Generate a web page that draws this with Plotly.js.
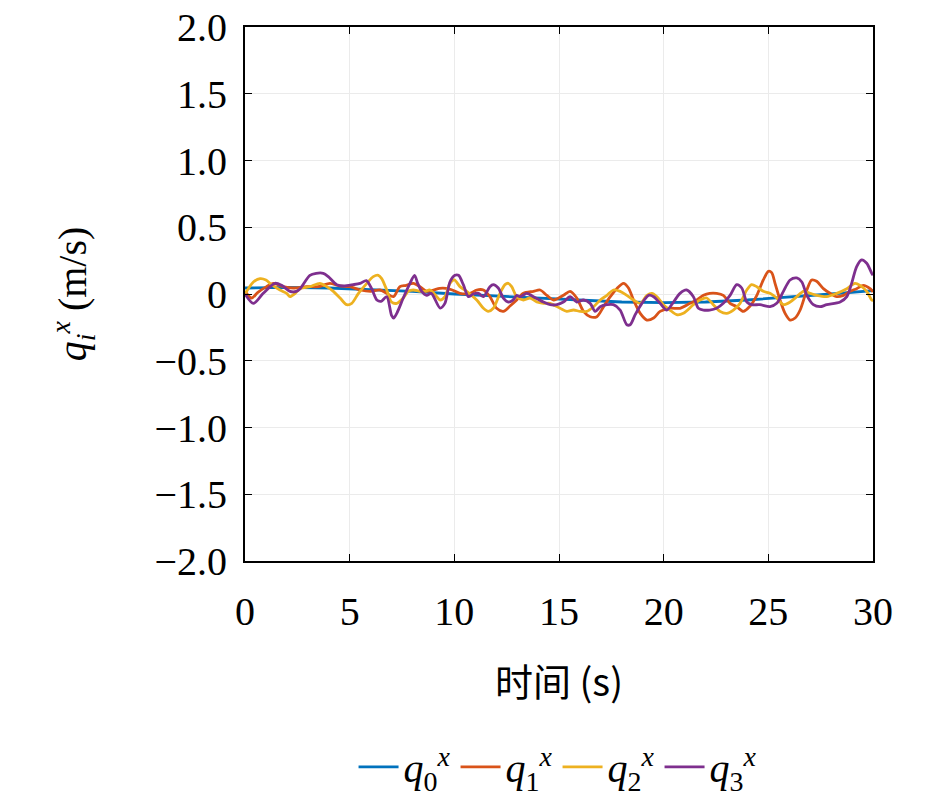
<!DOCTYPE html>
<html>
<head>
<meta charset="utf-8">
<script src="https://cdn.plot.ly/plotly-3.0.1.min.js"></script>
<style>
  body { margin: 0; background: #fff; }
  #plot { width: 945px; height: 798px; }
</style>
</head>
<body>
<div id="plot"></div>
<script>
// time (s) and velocity (m/s)
const t0 = [0, 2, 4, 6, 8, 10, 12, 14, 16, 18, 20, 22, 24, 26, 28, 30]
const q0 = [0.045, 0.05, 0.045, 0.035, 0.02, 0.0, -0.015, -0.035, -0.05, -0.06, -0.065, -0.06, -0.045, -0.025, 0.0, 0.025]

const t1 = [0, 0.32, 0.6, 1.03, 1.35, 1.83, 2.3, 2.95, 3.5, 4.06,
  4.5, 5.0, 5.5, 6.0, 6.45, 6.77, 7.09, 7.4, 7.7, 8.04,
  8.36, 8.68, 9.0, 9.3, 9.6, 9.9, 10.27, 10.75, 11.07, 11.39,
  11.7, 12.02, 12.34, 12.66, 12.98, 13.3, 13.78, 14.1, 14.42, 14.74,
  15.21, 15.53, 15.85, 16.17, 16.49, 16.81, 17.13, 17.45, 17.76, 18.08,
  18.32, 18.56, 18.88, 19.2, 19.52, 19.83, 20.3, 20.78, 21.26, 21.58,
  21.9, 22.2, 22.53, 22.85, 23.17, 23.49, 23.8, 24.13, 24.45, 24.76,
  25.0, 25.16, 25.32, 25.56, 25.8, 26.04, 26.28, 26.52, 26.84, 27.07,
  27.31, 27.63, 27.95, 28.27, 28.59, 28.9, 29.22, 29.54, 29.86, 30]
const q1 = [0.02, -0.03, 0.01, 0.055, 0.08, 0.055, 0.045, 0.055, 0.055, 0.08,
  0.06, 0.055, 0.03, 0.02, 0.03, 0.005, -0.02, 0.055, 0.065, 0.08,
  0.055, 0.02, 0.03, 0.042, 0.042, 0.03, 0.005, 0.005, 0.03, 0.03,
  -0.02, -0.107, -0.13, -0.09, -0.045, 0.005, 0.02, 0.03, -0.01, -0.045,
  -0.01, 0.02, -0.03, -0.13, -0.17, -0.17, -0.095, -0.02, 0.04, 0.08,
  0.045, -0.045, -0.145, -0.195, -0.18, -0.13, -0.107, -0.107, -0.07, -0.045,
  -0.01, 0.005, 0.005, -0.01, -0.07, -0.095, -0.13, -0.09, -0.01, 0.105,
  0.17, 0.16, 0.08, -0.045, -0.145, -0.195, -0.18, -0.12, 0.03, 0.105,
  0.095, 0.04, 0.005, -0.02, -0.01, 0.02, 0.04, 0.065, 0.04, 0.015]

const t2 = [0, 0.4, 0.72, 1.0, 1.27, 1.67, 1.99, 2.15, 2.4, 2.63,
  3.1, 3.58, 3.9, 4.22, 4.54, 4.86, 5.1, 5.42, 5.82, 6.13,
  6.37, 6.53, 6.77, 7.0, 7.25, 7.56, 7.8, 8.04, 8.36, 8.6,
  8.84, 9.16, 9.32, 9.55, 9.79, 10.0, 10.27, 10.59, 11.07, 11.39,
  11.62, 11.86, 12.18, 12.42, 12.58, 12.74, 12.98, 13.3, 13.62, 13.94,
  14.26, 14.58, 15.05, 15.37, 15.69, 16.01, 16.33, 16.65, 16.97, 17.29,
  17.6, 17.92, 18.24, 18.56, 18.88, 19.2, 19.44, 19.68, 19.99, 20.3,
  20.62, 20.94, 21.42, 21.74, 22.05, 22.37, 22.69, 23.01, 23.33, 23.65,
  23.97, 24.2, 24.45, 24.76, 25.08, 25.4, 25.72, 26.04, 26.36, 26.68,
  27.0, 27.31, 27.79, 28.27, 28.75, 29.14, 29.38, 29.7, 29.94, 30]
const q2 = [0.0, 0.09, 0.115, 0.105, 0.07, 0.03, 0.005, -0.02, 0.005, 0.04,
  0.055, 0.08, 0.055, 0.02, -0.03, -0.08, -0.07, 0.005, 0.08, 0.13,
  0.14, 0.115, 0.03, -0.06, -0.07, -0.03, 0.02, 0.03, 0.02, 0.02,
  0.03, -0.02, -0.045, -0.02, 0.08, 0.105, 0.055, 0.02, -0.045, -0.107,
  -0.13, -0.107, 0.005, 0.07, 0.08, 0.055, -0.02, -0.045, -0.03, -0.06,
  -0.07, -0.07, -0.107, -0.13, -0.12, -0.13, -0.13, -0.095, -0.045, -0.01,
  0.03, 0.02, -0.01, -0.045, -0.07, -0.01, 0.005, -0.02, -0.08, -0.12,
  -0.155, -0.145, -0.08, -0.045, -0.03, -0.08, -0.13, -0.145, -0.12, -0.07,
  0.03, 0.07, 0.055, 0.02, 0.005, -0.03, -0.08, -0.06, -0.02, 0.02,
  0.005, -0.01, -0.02, 0.005, 0.04, 0.08, 0.065, 0.02, -0.045, -0.05]

const t3 = [0, 0.4, 0.87, 1.43, 1.75, 2.15, 2.45, 2.63, 3.1, 3.4,
  3.74, 3.98, 4.38, 4.7, 5.17, 5.5, 5.8, 6.05, 6.3, 6.5,
  6.77, 7.0, 7.1, 7.25, 7.56, 7.88, 8.1, 8.25, 8.44, 8.68,
  8.9, 9.32, 9.55, 9.79, 10.03, 10.2, 10.43, 10.67, 10.9, 11.15,
  11.39, 11.7, 11.86, 12.1, 12.34, 12.58, 12.8, 12.98, 13.15, 13.46,
  13.78, 14.26, 14.58, 14.9, 15.21, 15.53, 15.85, 16.17, 16.49, 16.73,
  16.97, 17.29, 17.6, 17.92, 18.24, 18.4, 18.64, 18.96, 19.28, 19.52,
  19.83, 20.15, 20.47, 20.78, 21.1, 21.42, 21.66, 21.9, 22.2, 22.53,
  22.85, 23.17, 23.49, 23.73, 23.97, 24.2, 24.6, 25.08, 25.4, 25.72,
  26.04, 26.36, 26.6, 26.84, 27.15, 27.47, 27.79, 28.43, 28.75, 28.98,
  29.22, 29.46, 29.7, 29.94, 30]
const q3 = [0, -0.07, 0.005, 0.08, 0.065, 0.02, 0.02, 0.04, 0.14, 0.155,
  0.155, 0.13, 0.07, 0.06, 0.07, 0.08, 0.10, 0.04, -0.045, -0.055,
  -0.02, -0.16, -0.18, -0.145, -0.03, 0.08, 0.14, 0.08, 0.02, -0.01,
  0.005, -0.105, -0.07, 0.09, 0.14, 0.14, 0.07, -0.02, 0.0, 0.005,
  -0.02, 0.055, 0.07, 0.045, -0.03, -0.06, -0.045, -0.01, -0.02, 0.005,
  -0.02, -0.06, -0.08, -0.08, -0.06, -0.02, -0.06, -0.045, -0.07, -0.13,
  -0.095, -0.08, -0.08, -0.12, -0.23, -0.23, -0.155, -0.07, -0.01, -0.02,
  -0.07, -0.12, -0.06, 0.005, 0.03, -0.02, -0.107, -0.12, -0.12, -0.107,
  -0.07, -0.01, 0.07, 0.045, -0.06, -0.08, -0.08, -0.095, -0.07, 0.02,
  0.105, 0.12, 0.09, -0.01, -0.08, -0.095, -0.08, -0.06, -0.02, 0.08,
  0.205, 0.255, 0.23, 0.155, 0.14]

const xTicks = [0, 5, 10, 15, 20, 25, 30]
const yTicks = [-2, -1.5, -1, -0.5, 0, 0.5, 1, 1.5, 2]
const yTickText = ['\u22122.0', '\u22121.5', '\u22121.0', '\u22120.5', '0', '0.5', '1.0', '1.5', '2.0']

const names = ['<i>q</i><sub>0</sub><sup><i>x</i></sup>', '<i>q</i><sub>1</sub><sup><i>x</i></sup>',
  '<i>q</i><sub>2</sub><sup><i>x</i></sup>', '<i>q</i><sub>3</sub><sup><i>x</i></sup>']
const colors = ['#0072BD', '#D95319', '#EDB120', '#7E2F8E']

const serif = 'Liberation Serif'

const traces = [[t0, q0], [t1, q1], [t2, q2], [t3, q3]].map(([x, y], i) => ({
  x: x,
  y: y,
  name: names[i],
  type: 'scatter',
  mode: 'lines',
  line: { color: colors[i], width: 2.8, shape: i === 0 ? 'linear' : 'spline', smoothing: 0.8 }
}))

Plotly.newPlot('plot', traces, {
  width: 945,
  height: 798,
  margin: { l: 245, r: 72, t: 27, b: 237 },
  paper_bgcolor: '#fff',
  plot_bgcolor: '#fff',
  font: { family: serif, size: 36, color: '#000' },
  showlegend: true,
  legend: {
    orientation: 'h',
    x: 0.59, xanchor: 'center',
    xref: 'container', yref: 'container',
    y: 0.039, yanchor: 'middle',
    font: { family: serif, size: 40 },
    itemwidth: 40,
    tracegroupgap: 0
  },
  xaxis: {
    range: [0, 30],
    tickvals: xTicks,
    ticks: 'inside',
    ticklen: 7,
    tickwidth: 1.2,
    tickcolor: '#000',
    ticklabelstandoff: 14,
    showline: true,
    linecolor: '#000',
    linewidth: 2,
    mirror: 'ticks',
    showgrid: true,
    gridcolor: '#ebebeb',
    gridwidth: 1,
    zeroline: false,
    automargin: false,
    tickfont: { family: serif, size: 40 },
    title: { text: '时间 (s)', font: { family: 'Noto Sans CJK SC', size: 38 }, standoff: 36 }
  },
  yaxis: {
    range: [-2, 2],
    tickvals: yTicks,
    ticktext: yTickText,
    ticks: 'inside',
    ticklen: 7,
    tickwidth: 1.2,
    tickcolor: '#000',
    ticklabelstandoff: 8,
    showline: true,
    linecolor: '#000',
    linewidth: 2,
    mirror: 'ticks',
    showgrid: true,
    gridcolor: '#ebebeb',
    gridwidth: 1,
    zeroline: false,
    automargin: false,
    tickfont: { family: serif, size: 40 },
    title: { text: '<i>q</i><sub><i>i</i></sub><sup><i>x</i></sup> (m/s)', font: { family: serif, size: 40 }, standoff: 55 }
  }
}, {
  displayModeBar: false
})
</script>
</body>
</html>
